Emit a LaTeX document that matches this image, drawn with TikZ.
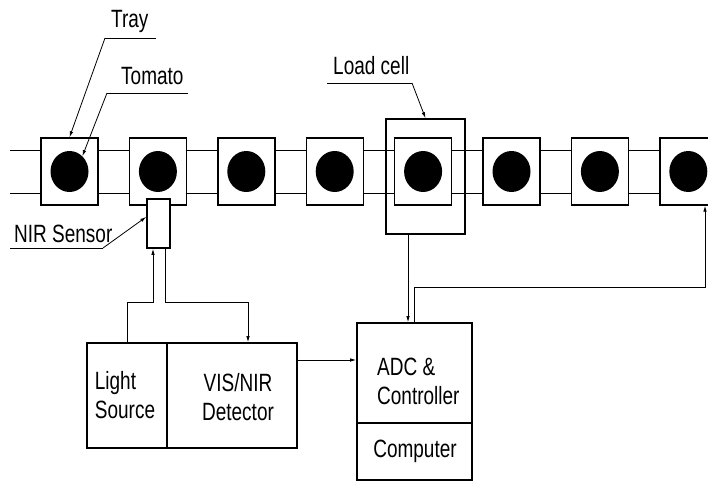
\documentclass[tikz,border=0pt]{standalone}
\usepackage{fontspec}
\newfontfamily\cad[FakeStretch=0.76]{Liberation Sans}
\usetikzlibrary{arrows.meta,shapes.geometric,calc}
\begin{document}
\begin{tikzpicture}[x=1pt,y=-1pt,
 tray/.style={draw, line width=1.4pt, fill=white, minimum width=57pt, minimum height=67pt, inner sep=0pt},
 tomato/.style={ellipse, fill=black, minimum width=38pt, minimum height=41pt, inner sep=0pt},
 box/.style={draw, line width=1.6pt, inner sep=0pt},
 lbl/.style={font=\cad\fontsize{25}{29}\selectfont, inner sep=0pt},
 wire/.style={line width=0.8pt},
 arr/.style={wire, -{Latex[length=6pt,width=3.5pt]}}
]
\useasboundingbox (0,0) rectangle (708,481);
% conveyor
\coordinate (cl1) at (10,150); \coordinate (cr1) at (708,150);
\coordinate (cl2) at (10,193); \coordinate (cr2) at (708,193);
\draw[wire] (cl1) -- (cr1);
\draw[wire] (cl2) -- (cr2);
% load cell
\node[box, minimum width=79pt, minimum height=115pt] (lc) at (425.5,176.5) {};
% trays and tomatoes
\foreach \i in {1,...,8} {
  \node[tray] (t\i) at ({69.5+88.4*(\i-1)},171.5) {};
  \node[tomato] (m\i) at (t\i) {};
}
% NIR sensor
\node[box, fill=white, minimum width=23pt, minimum height=49pt] (s) at (158.5,223.5) {};
% bottom boxes
\node[box, minimum width=80pt, minimum height=105pt] (ls) at (127,395.5) {};
\node[box, minimum width=130pt, minimum height=105pt] (det) at (232,395.5) {};
\node[box, minimum width=115pt, minimum height=100pt] (adc) at (414.5,373) {};
\node[box, minimum width=115pt, minimum height=57pt] (comp) at (414.5,451.5) {};
% box texts
\node[lbl, align=left] (lst) at (125,395) {Light\\Source};
\node[lbl, align=center] (dett) at (238,397) {VIS/NIR\\Detector};
\node[lbl, align=left, anchor=west] (adct) at (377,381) {ADC \&\\Controller};
\node[lbl] (compt) at (415,451) {Computer};
% labels
\node[lbl, anchor=base west] (trayl) at (111,28) {Tray};
\node[lbl, anchor=base west] (tomatol) at (121,85) {Tomato};
\node[lbl, anchor=base west] (lcl) at (333,75) {Load cell};
\node[lbl, anchor=base west] (nirl) at (14,242) {NIR Sensor};
% leaders
\coordinate (u1a) at (105,38); \coordinate (u1b) at (156,38);
\draw[wire] (u1b) -- (u1a);
\draw[arr] (u1a) -- (t1.north);
\coordinate (u2a) at (107,93); \coordinate (u2b) at (188,93);
\draw[wire] (u2b) -- (u2a);
\draw[arr] (u2a) -- (m1.50);
\coordinate (u3a) at (327,83); \coordinate (u3b) at (412,83);
\draw[wire] (u3a) -- (u3b);
\draw[arr] (u3b) -- (lc.north);
\coordinate (u4a) at (10,248); \coordinate (u4b) at (103,248);
\draw[wire] (u4a) -- (u4b);
\draw[arr] (u4b) -- ($(s.north west)!0.37!(s.south west)$);
% wires
\coordinate (j1) at (153,302);
\coordinate (j2) at (165,302);
\coordinate (j3) at (248,302);
\draw[arr] (ls.north) |- (j1) -- (j1 |- s.south);
\draw[arr] (j2 |- s.south) -- (j2) -| (j3 |- det.north);
\coordinate (dout) at (297,360);
\draw[arr] (dout) -- (dout -| adc.west);
\coordinate (c408) at (408,0);
\draw[arr] (lc.south -| c408) -- (adc.north -| c408);
\coordinate (c414) at (414,287);
\coordinate (c705) at (705,287);
\draw[arr] (adc.north -| c414) -- (c414) -- (c705) -- (c705 |- t8.south);
\end{tikzpicture}
\end{document}
